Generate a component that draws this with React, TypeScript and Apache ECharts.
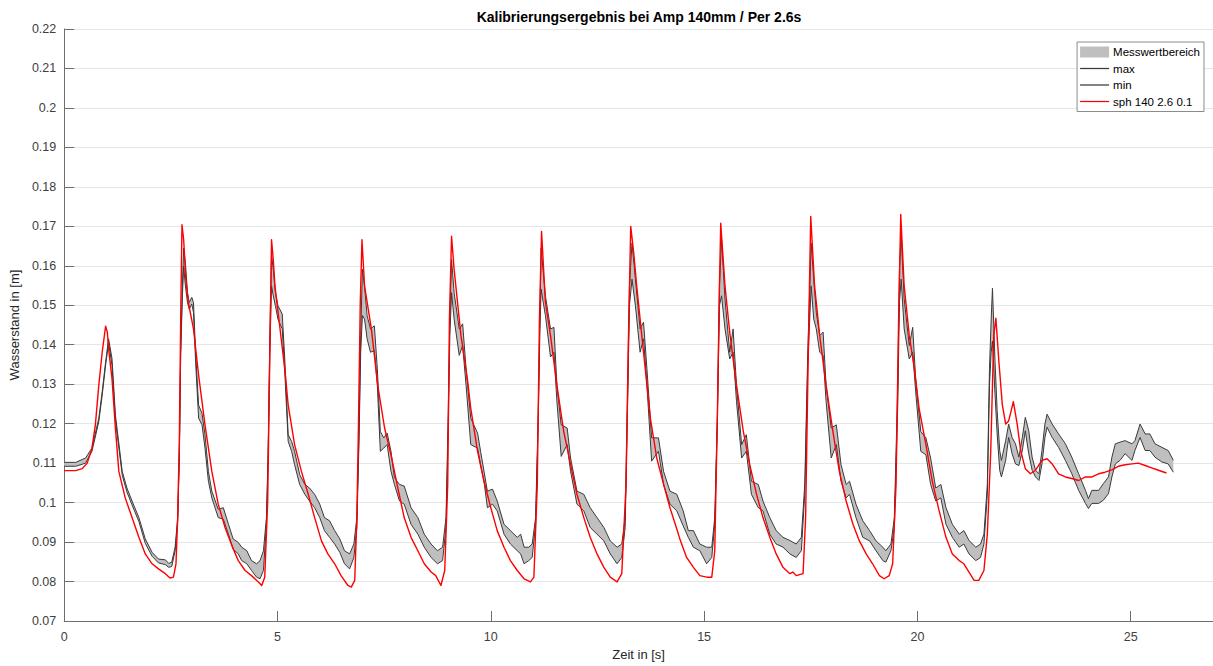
import React, { useEffect, useRef } from "react";
import * as echarts from "echarts";

const chartTitle = "Kalibrierungsergebnis bei Amp 140mm / Per 2.6s";
const xAxisName = "Zeit in [s]";
const yAxisName = "Wasserstand in [m]";
const bandName = "Messwertbereich";
const maxName = "max";
const minName = "min";
const simName = "sph 140 2.6 0.1";

// Measured range (max / min envelope)
const bandTime = [
  0.0, 0.27, 0.5, 0.65, 0.81, 0.89, 0.97, 1.04, 1.12, 1.2, 1.36, 1.47, 1.59, 1.75, 1.9, 2.06, 2.21, 2.37, 2.45, 2.52,
  2.6, 2.66, 2.7, 2.73, 2.77, 2.8, 2.84, 2.89, 2.93, 2.99, 3.03, 3.08, 3.15, 3.23, 3.3, 3.38, 3.46, 3.61, 3.73, 3.85,
  3.96, 4.08, 4.16, 4.28, 4.39, 4.51, 4.59, 4.67, 4.74, 4.78, 4.82, 4.86, 4.9, 4.95, 5.01, 5.11, 5.17, 5.25, 5.33, 5.4,
  5.52, 5.64, 5.75, 5.87, 5.99, 6.1, 6.22, 6.34, 6.46, 6.57, 6.69, 6.79, 6.86, 6.91, 6.95, 6.99, 7.04, 7.1, 7.18, 7.27,
  7.34, 7.41, 7.49, 7.57, 7.66, 7.74, 7.86, 7.97, 8.13, 8.29, 8.44, 8.6, 8.75, 8.87, 8.95, 9.0, 9.04, 9.08, 9.14, 9.26,
  9.34, 9.42, 9.53, 9.69, 9.76, 9.84, 9.92, 10.04, 10.15, 10.31, 10.46, 10.62, 10.7, 10.78, 10.89, 10.97, 11.05, 11.11, 11.15, 11.18,
  11.23, 11.28, 11.4, 11.48, 11.55, 11.65, 11.79, 11.87, 12.02, 12.18, 12.33, 12.49, 12.65, 12.8, 12.96, 13.07, 13.15, 13.21, 13.25, 13.31,
  13.39, 13.5, 13.58, 13.66, 13.77, 13.93, 14.05, 14.2, 14.36, 14.51, 14.63, 14.75, 14.9, 15.06, 15.18, 15.25, 15.31, 15.36, 15.41, 15.49,
  15.6, 15.68, 15.76, 15.88, 15.99, 16.11, 16.27, 16.38, 16.54, 16.69, 16.85, 17.01, 17.16, 17.28, 17.36, 17.43, 17.51, 17.57, 17.63, 17.71,
  17.79, 17.86, 17.98, 18.1, 18.21, 18.33, 18.41, 18.56, 18.72, 18.88, 19.03, 19.19, 19.26, 19.38, 19.46, 19.54, 19.58, 19.62, 19.69, 19.81,
  19.89, 19.96, 20.08, 20.2, 20.31, 20.43, 20.55, 20.67, 20.82, 20.98, 21.09, 21.21, 21.37, 21.48, 21.56, 21.64, 21.69, 21.73, 21.76, 21.82,
  21.87, 21.93, 21.97, 22.07, 22.14, 22.22, 22.3, 22.38, 22.46, 22.53, 22.61, 22.69, 22.77, 22.85, 22.92, 22.99, 23.04, 23.16, 23.31, 23.47,
  23.62, 23.78, 23.94, 24.01, 24.09, 24.25, 24.36, 24.48, 24.56, 24.64, 24.75, 24.87, 25.03, 25.1, 25.22, 25.34, 25.45, 25.57, 25.73, 25.88,
  26.0,
];
const maxLevel = [
  0.1102, 0.1102, 0.1113, 0.1138, 0.1214, 0.1281, 0.1356, 0.1415, 0.1365, 0.1222, 0.1079, 0.1037, 0.1004, 0.0962, 0.0908, 0.0874, 0.0857, 0.0855, 0.0846, 0.0849,
  0.0887, 0.0962, 0.113, 0.1381, 0.1549, 0.1645, 0.1608, 0.1532, 0.1507, 0.152, 0.1507, 0.1381, 0.1247, 0.1226, 0.1172, 0.1079, 0.1029, 0.0983, 0.0987, 0.0945,
  0.0908, 0.0899, 0.0887, 0.0878, 0.0853, 0.0845, 0.0853, 0.0878, 0.0962, 0.113, 0.1423, 0.1629, 0.1591, 0.1532, 0.1499, 0.1478, 0.1364, 0.1172, 0.1155, 0.113,
  0.1071, 0.1046, 0.1037, 0.1021, 0.0996, 0.0962, 0.0954, 0.0929, 0.0908, 0.0878, 0.087, 0.0895, 0.0962, 0.1172, 0.1423, 0.1591, 0.1549, 0.1474, 0.144, 0.1448,
  0.1339, 0.118, 0.1164, 0.1176, 0.113, 0.1063, 0.1046, 0.1042, 0.0987, 0.0962, 0.092, 0.0895, 0.0878, 0.0887, 0.0962, 0.1214, 0.1465, 0.1616, 0.1532, 0.144,
  0.1453, 0.1339, 0.1214, 0.1176, 0.113, 0.108, 0.1029, 0.1034, 0.1004, 0.0945, 0.0929, 0.0912, 0.092, 0.0887, 0.0887, 0.0895, 0.0962, 0.1214, 0.1465, 0.1645,
  0.1583, 0.1524, 0.144, 0.1444, 0.1297, 0.1197, 0.1189, 0.1113, 0.1029, 0.1021, 0.0987, 0.0962, 0.0937, 0.0903, 0.0887, 0.0895, 0.0962, 0.1297, 0.1549, 0.1658,
  0.1566, 0.144, 0.1457, 0.1339, 0.1164, 0.1164, 0.1079, 0.1029, 0.1021, 0.0979, 0.0929, 0.0929, 0.0895, 0.0887, 0.0887, 0.0962, 0.1214, 0.1549, 0.1666, 0.1516,
  0.1381, 0.144, 0.1297, 0.1147, 0.1172, 0.1054, 0.1046, 0.1004, 0.0962, 0.0929, 0.0912, 0.0904, 0.0895, 0.0912, 0.1046, 0.1381, 0.1658, 0.1566, 0.1482, 0.1423,
  0.1432, 0.1297, 0.1189, 0.1197, 0.1096, 0.1046, 0.1054, 0.0996, 0.0954, 0.0929, 0.0903, 0.0887, 0.0878, 0.0895, 0.0962, 0.1297, 0.1591, 0.1679, 0.1516, 0.1398,
  0.1444, 0.1314, 0.118, 0.1164, 0.1113, 0.1037, 0.1046, 0.0987, 0.0945, 0.092, 0.0929, 0.0904, 0.0887, 0.0895, 0.092, 0.1046, 0.1339, 0.1465, 0.1543, 0.1358,
  0.1233, 0.1132, 0.1107, 0.1157, 0.1199, 0.1165, 0.1149, 0.1115, 0.1165, 0.1216, 0.1182, 0.1115, 0.1082, 0.1073, 0.1132, 0.1199, 0.1224, 0.1199, 0.1174, 0.1149,
  0.1115, 0.1073, 0.1031, 0.101, 0.1031, 0.1031, 0.1048, 0.1065, 0.1115, 0.1149, 0.1153, 0.1157, 0.1149, 0.1157, 0.1199, 0.1174, 0.1174, 0.1149, 0.114, 0.1132,
  0.1107,
];
const minLevel = [
  0.1092, 0.1092, 0.11, 0.113, 0.1205, 0.1272, 0.1348, 0.1405, 0.1348, 0.1209, 0.1069, 0.1027, 0.0994, 0.0952, 0.0897, 0.0864, 0.0847, 0.0843, 0.0836, 0.0838,
  0.0878, 0.0953, 0.1121, 0.1373, 0.1524, 0.1599, 0.1549, 0.1507, 0.149, 0.1503, 0.1482, 0.1356, 0.1214, 0.1197, 0.1138, 0.1054, 0.1012, 0.0962, 0.0958, 0.092,
  0.0882, 0.087, 0.0853, 0.0845, 0.0828, 0.0811, 0.0807, 0.0828, 0.0945, 0.1113, 0.1381, 0.1549, 0.1524, 0.1499, 0.1465, 0.144, 0.1331, 0.1155, 0.113, 0.1096,
  0.1046, 0.1021, 0.1004, 0.0987, 0.0962, 0.0929, 0.0912, 0.0895, 0.0874, 0.0845, 0.0832, 0.0861, 0.0937, 0.1155, 0.1381, 0.1474, 0.1465, 0.1415, 0.1381, 0.1385,
  0.1297, 0.113, 0.1138, 0.1147, 0.1079, 0.1046, 0.1004, 0.0996, 0.0945, 0.092, 0.0887, 0.0861, 0.0845, 0.0853, 0.0937, 0.118, 0.1423, 0.1532, 0.1465, 0.1373,
  0.1398, 0.1297, 0.1147, 0.1138, 0.1096, 0.1054, 0.0987, 0.0996, 0.0979, 0.092, 0.0895, 0.0878, 0.087, 0.0845, 0.0853, 0.0861, 0.0945, 0.1197, 0.1432, 0.1541,
  0.1507, 0.1474, 0.1369, 0.1381, 0.1256, 0.1117, 0.1147, 0.1079, 0.0996, 0.0979, 0.0937, 0.092, 0.0903, 0.087, 0.0845, 0.0861, 0.0937, 0.1264, 0.1499, 0.1566,
  0.1499, 0.1381, 0.1415, 0.1297, 0.1105, 0.113, 0.1046, 0.0996, 0.0979, 0.0941, 0.0912, 0.0887, 0.0878, 0.0845, 0.0861, 0.0945, 0.1197, 0.1499, 0.1524, 0.144,
  0.1364, 0.1381, 0.1256, 0.1113, 0.113, 0.1021, 0.0987, 0.0979, 0.092, 0.0895, 0.0887, 0.087, 0.0861, 0.0878, 0.1021, 0.1348, 0.1549, 0.1465, 0.144, 0.1381,
  0.1373, 0.1256, 0.1113, 0.1147, 0.1054, 0.1012, 0.1021, 0.0962, 0.0912, 0.0903, 0.0878, 0.0853, 0.0849, 0.0878, 0.0937, 0.1247, 0.1507, 0.1566, 0.144, 0.1364,
  0.1381, 0.1281, 0.113, 0.1121, 0.1046, 0.1004, 0.1012, 0.0945, 0.0912, 0.0887, 0.0895, 0.087, 0.0853, 0.0861, 0.0895, 0.1021, 0.1297, 0.1381, 0.1409, 0.1274,
  0.1174, 0.1082, 0.1065, 0.1107, 0.1165, 0.1124, 0.1098, 0.1094, 0.1132, 0.1182, 0.1124, 0.1082, 0.1065, 0.1056, 0.1098, 0.1165, 0.1191, 0.1165, 0.114, 0.1107,
  0.1073, 0.1031, 0.0998, 0.0985, 0.0998, 0.0998, 0.1006, 0.1023, 0.1065, 0.1098, 0.1107, 0.1124, 0.1107, 0.1132, 0.1165, 0.1132, 0.1132, 0.1115, 0.1103, 0.1098,
  0.1077,
];

// Simulation "sph 140 2.6 0.1"
const simTime = [
  0.0, 0.27, 0.42, 0.54, 0.65, 0.73, 0.81, 0.89, 0.97, 1.01, 1.04, 1.12, 1.2, 1.28, 1.43, 1.59, 1.75, 1.9, 2.06, 2.21,
  2.37, 2.48, 2.56, 2.62, 2.66, 2.7, 2.73, 2.76, 2.8, 2.85, 2.91, 3.03, 3.15, 3.3, 3.46, 3.61, 3.77, 3.93, 4.08, 4.24,
  4.39, 4.55, 4.63, 4.7, 4.77, 4.82, 4.86, 4.9, 4.94, 5.05, 5.17, 5.25, 5.4, 5.56, 5.72, 5.87, 6.03, 6.18, 6.34, 6.49,
  6.65, 6.73, 6.81, 6.86, 6.9, 6.94, 6.98, 7.04, 7.2, 7.35, 7.51, 7.66, 7.82, 7.97, 8.13, 8.29, 8.44, 8.6, 8.71, 8.83,
  8.92, 8.99, 9.03, 9.08, 9.14, 9.3, 9.45, 9.53, 9.69, 9.84, 10.0, 10.15, 10.31, 10.46, 10.62, 10.78, 10.93, 11.01, 11.09, 11.14,
  11.19, 11.28, 11.4, 11.55, 11.71, 11.87, 12.02, 12.18, 12.33, 12.49, 12.65, 12.8, 12.96, 13.07, 13.17, 13.22, 13.28, 13.35, 13.42, 13.58,
  13.74, 13.89, 14.05, 14.2, 14.36, 14.44, 14.59, 14.75, 14.9, 15.06, 15.18, 15.25, 15.31, 15.36, 15.39, 15.49, 15.6, 15.76, 15.92, 16.07,
  16.23, 16.38, 16.54, 16.69, 16.85, 17.01, 17.08, 17.16, 17.32, 17.38, 17.43, 17.47, 17.5, 17.59, 17.71, 17.86, 18.02, 18.17, 18.33, 18.49,
  18.64, 18.8, 18.95, 19.11, 19.22, 19.34, 19.42, 19.5, 19.56, 19.61, 19.69, 19.81, 19.93, 20.04, 20.2, 20.35, 20.51, 20.67, 20.82, 20.98,
  21.09, 21.21, 21.33, 21.44, 21.56, 21.64, 21.72, 21.79, 21.84, 21.91, 21.99, 22.07, 22.14, 22.25, 22.34, 22.42, 22.53, 22.65, 22.77, 22.92,
  23.04, 23.16, 23.31, 23.47, 23.62, 23.78, 23.94, 24.09, 24.25, 24.4, 24.56, 24.71, 24.87, 25.03, 25.18, 25.34, 25.49, 25.65, 25.84,
];
const simLevel = [
  0.1081, 0.1081, 0.1086, 0.11, 0.1138, 0.1197, 0.1297, 0.1381, 0.1447, 0.1432, 0.139, 0.1314, 0.1188, 0.1079, 0.1012, 0.0962, 0.0912, 0.087, 0.0845, 0.0832,
  0.082, 0.0809, 0.0811, 0.0845, 0.0962, 0.1172, 0.1465, 0.1704, 0.1666, 0.1566, 0.1507, 0.144, 0.1323, 0.1197, 0.1079, 0.0996, 0.0937, 0.0891, 0.0853, 0.0828,
  0.0815, 0.0799, 0.079, 0.0811, 0.1004, 0.1381, 0.1666, 0.1616, 0.1549, 0.1448, 0.1339, 0.1247, 0.1147, 0.1079, 0.1021, 0.0962, 0.0903, 0.087, 0.0845, 0.0815,
  0.079, 0.0786, 0.0803, 0.0962, 0.1214, 0.1507, 0.1666, 0.1549, 0.144, 0.1297, 0.1189, 0.1121, 0.1037, 0.0962, 0.0912, 0.0878, 0.0845, 0.0824, 0.0815, 0.079,
  0.0828, 0.1046, 0.1465, 0.1675, 0.1591, 0.1423, 0.1314, 0.1239, 0.113, 0.1054, 0.0987, 0.0929, 0.0887, 0.0853, 0.0828, 0.0807, 0.0799, 0.0811, 0.1046, 0.1465,
  0.1687, 0.1507, 0.1423, 0.1297, 0.118, 0.1096, 0.1021, 0.0962, 0.0912, 0.087, 0.0836, 0.0811, 0.0799, 0.082, 0.1046, 0.1381, 0.17, 0.1633, 0.1549, 0.1381,
  0.1214, 0.1113, 0.1046, 0.0987, 0.0933, 0.0905, 0.0861, 0.0836, 0.0815, 0.0811, 0.0811, 0.0878, 0.1214, 0.1549, 0.1708, 0.1549, 0.1432, 0.1297, 0.118, 0.1096,
  0.1021, 0.0962, 0.0912, 0.087, 0.0836, 0.082, 0.0824, 0.0815, 0.082, 0.0962, 0.1297, 0.1549, 0.1725, 0.1549, 0.1423, 0.1297, 0.118, 0.1079, 0.1004, 0.0945,
  0.0903, 0.087, 0.0845, 0.0815, 0.0807, 0.0815, 0.0845, 0.1046, 0.1465, 0.173, 0.1549, 0.1423, 0.1339, 0.1239, 0.1147, 0.1054, 0.0979, 0.0912, 0.087, 0.0853,
  0.0845, 0.0824, 0.0803, 0.0803, 0.0828, 0.092, 0.113, 0.1423, 0.1467, 0.1358, 0.1249, 0.1199, 0.1207, 0.1256, 0.1199, 0.1132, 0.1086, 0.1073, 0.1082, 0.1107,
  0.1111, 0.1098, 0.1073, 0.1065, 0.1061, 0.1056, 0.1065, 0.1065, 0.1073, 0.1077, 0.1083, 0.1092, 0.1096, 0.1098, 0.11, 0.1094, 0.1088, 0.1082, 0.1075,
];

const W = 1213;
const H = 666;
const FONT = "'Liberation Sans', Arial, Helvetica, sans-serif";
const LINE_ICON = "path://M0,0H30V1.3H0Z";

export default function App() {
  const ref = useRef<HTMLDivElement>(null);

  useEffect(() => {
    if (!ref.current) return;
    const chart = echarts.init(ref.current, null, { renderer: "svg" });
    const maxData = bandTime.map((t, i) => [t, maxLevel[i]]);
    const minData = bandTime.map((t, i) => [t, minLevel[i]]);
    const simData = simTime.map((t, i) => [t, simLevel[i]]);

    chart.setOption({
      animation: false,
      textStyle: { fontFamily: FONT },
      title: {
        text: chartTitle,
        left: 639,
        top: 10,
        padding: 0,
        textAlign: "center",
        textStyle: { fontSize: 14, fontWeight: "bold", color: "#000", fontFamily: FONT },
      },
      legend: {
        orient: "vertical",
        right: 9,
        top: 42,
        padding: [4, 4, 4, 3],
        backgroundColor: "#fff",
        borderColor: "#8c8c8c",
        borderWidth: 1,
        borderRadius: 0,
        itemWidth: 29,
        itemHeight: 11,
        itemGap: 4.5,
        symbolKeepAspect: true,
        textStyle: { fontSize: 11.5, color: "#000", fontFamily: FONT, padding: [0, 0, 0, -1] },
        data: [
          { name: bandName, icon: "rect" },
          { name: maxName, icon: LINE_ICON },
          { name: minName, icon: LINE_ICON },
          { name: simName, icon: LINE_ICON },
        ],
      },
      grid: { left: 62, right: -2, top: 29, bottom: 41, containLabel: false },
      xAxis: {
        type: "value",
        min: 0,
        max: 26.93,
        interval: 5,
        name: xAxisName,
        nameLocation: "middle",
        nameGap: 27,
        nameTextStyle: { fontSize: 13, color: "#262626", fontFamily: FONT },
        axisLine: { show: true, onZero: false, lineStyle: { color: "#6e6e6e", width: 1 } },
        axisTick: { show: true, inside: true, length: 10, lineStyle: { color: "#6e6e6e" } },
        axisLabel: {
          margin: 9,
          fontSize: 12.5,
          color: "#404040",
          showMaxLabel: false,
          formatter: (v: number) => (Math.abs(v / 5 - Math.round(v / 5)) < 1e-6 ? String(Math.round(v)) : ""),
        },
        splitLine: { show: false },
      },
      yAxis: {
        type: "value",
        min: 0.07,
        max: 0.22,
        interval: 0.01,
        name: yAxisName,
        nameLocation: "middle",
        nameGap: 43,
        nameRotate: 90,
        nameTextStyle: { fontSize: 13, color: "#262626", fontFamily: FONT },
        axisLine: { show: true, lineStyle: { color: "#6e6e6e", width: 1 } },
        axisTick: { show: true, inside: true, length: 10, lineStyle: { color: "#6e6e6e" } },
        axisLabel: {
          margin: 8,
          fontSize: 12.5,
          color: "#404040",
          formatter: (v: number) => String(Math.round(v * 100) / 100),
        },
        splitLine: { show: true, lineStyle: { color: "#e6e6e6", width: 1 } },
      },
      series: [
        {
          name: bandName,
          type: "custom",
          itemStyle: { color: "#bfbfbf" },
          data: [[0, 0.1]],
          z: 1,
          renderItem: (_params: any, api: any) => {
            const upper = bandTime.map((t, i) => api.coord([t, maxLevel[i]]));
            const lower = bandTime.map((t, i) => api.coord([t, minLevel[i]])).reverse();
            return {
              type: "polygon",
              shape: { points: upper.concat(lower) },
              style: { fill: "#bfbfbf", stroke: "none" },
              silent: true,
            };
          },
        },
        {
          name: maxName,
          type: "line",
          data: maxData,
          symbol: "none",
          z: 2,
          itemStyle: { color: "#3a3a3a" },
          lineStyle: { color: "#3a3a3a", width: 1 },
        },
        {
          name: minName,
          type: "line",
          data: minData,
          symbol: "none",
          z: 2,
          itemStyle: { color: "#3a3a3a" },
          lineStyle: { color: "#3a3a3a", width: 1 },
        },
        {
          name: simName,
          type: "line",
          data: simData,
          symbol: "none",
          z: 3,
          itemStyle: { color: "#ff0000" },
          lineStyle: { color: "#ff0000", width: 1.4, join: "round" },
        },
      ],
    });
    return () => chart.dispose();
  }, []);

  return (
    <div
      ref={ref}
      style={{ position: "absolute", left: 0, top: 0, width: W, height: H, background: "#fff" }}
    />
  );
}
